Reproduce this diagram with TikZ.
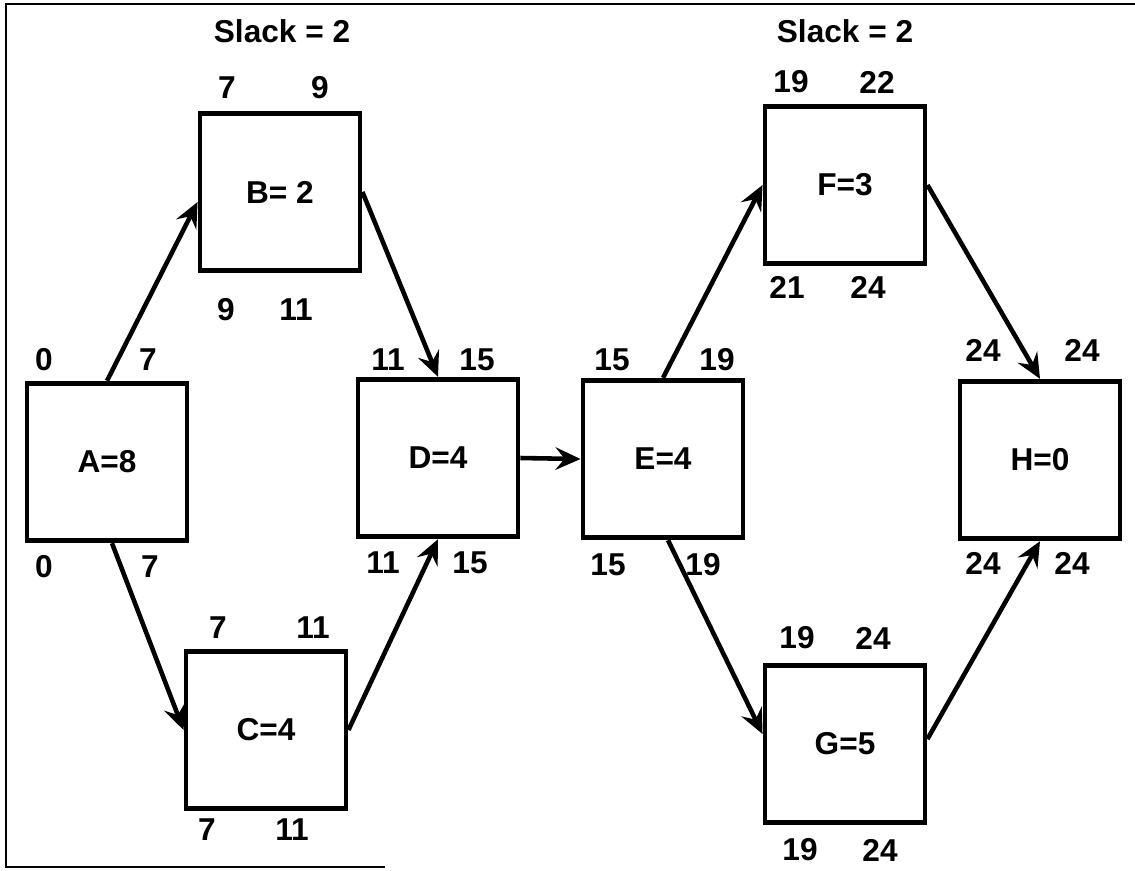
\documentclass[tikz,border=0pt]{standalone}
\usepackage{fontspec}
\setmainfont{Liberation Sans}
\usetikzlibrary{arrows.meta}

\begin{document}
\begin{tikzpicture}[x=0.02cm, y=-0.02cm,
    act/.style={draw, line width=2.8pt, minimum width=3.2cm, minimum height=3.15cm,
      font=\fontsize{18}{20}\selectfont\bfseries},
    num/.style={font=\fontsize{18}{20}\selectfont\bfseries},
    flow/.style={->, line width=2.6pt},
    >={Stealth[length=5mm, width=4.5mm, inset=1.8mm]}]
    \useasboundingbox (0,0) rectangle (1135,870);
    % frame
    \draw[line width=1.2pt] (385,867) -- (6,867) -- (6,4) -- (1135,4);

    % activities
    \node[act] (A) at (107,462) {A=8};
    \node[act] (B) at (280,192) {B= 2};
    \node[act] (C) at (266,730) {C=4};
    \node[act] (D) at (438,458) {D=4};
    \node[act] (E) at (663,459) {E=4};
    \node[act] (F) at (845,185) {F=3};
    \node[act] (G) at (845,744) {G=5};
    \node[act] (H) at (1040,460) {H=0};

    % early start / finish above, late start / finish below
    \node[num] (A-es) at (44,360) {0};
    \node[num] (A-ef) at (148,360) {7};
    \node[num] (A-ls) at (44,567) {0};
    \node[num] (A-lf) at (150,567) {7};
    \node[num] (B-es) at (227,88) {7};
    \node[num] (B-ef) at (320,88) {9};
    \node[num] (B-ls) at (226,310) {9};
    \node[num] (B-lf) at (296,310) {11};
    \node[num] (C-es) at (218,628) {7};
    \node[num] (C-ef) at (313,628) {11};
    \node[num] (C-ls) at (207,830) {7};
    \node[num] (C-lf) at (292,830) {11};
    \node[num] (D-es) at (388,360) {11};
    \node[num] (D-ef) at (477,360) {15};
    \node[num] (D-ls) at (383,563) {11};
    \node[num] (D-lf) at (470,563) {15};
    \node[num] (E-es) at (612,360) {15};
    \node[num] (E-ef) at (717,360) {19};
    \node[num] (E-ls) at (608,565) {15};
    \node[num] (E-lf) at (703,565) {19};
    \node[num] (F-es) at (791,82) {19};
    \node[num] (F-ef) at (877,82) {22};
    \node[num] (F-ls) at (787,287) {21};
    \node[num] (F-lf) at (868,287) {24};
    \node[num] (G-es) at (797,638) {19};
    \node[num] (G-ef) at (873,638) {24};
    \node[num] (G-ls) at (800,850) {19};
    \node[num] (G-lf) at (880,850) {24};
    \node[num] (H-es) at (983,350) {24};
    \node[num] (H-ef) at (1082,350) {24};
    \node[num] (H-ls) at (983,563) {24};
    \node[num] (H-lf) at (1072,563) {24};

    \node[num] (B-slack) at (282,31) {Slack = 2};
    \node[num] (F-slack) at (845,31) {Slack = 2};

    \draw[flow] (A.north) -- ([yshift=-2mm]B.west);
    \draw[flow] ([xshift=1mm]A.south) -- (C.west);
    \draw[flow] (B.east) -- (D.north);
    \draw[flow] (C.east) -- (D.south);
    \draw[flow] (D.east) -- (E.west);
    \draw[flow] (E.north) -- (F.west);
    \draw[flow] ([xshift=1mm]E.south) -- ([yshift=2mm]G.west);
    \draw[flow] (F.east) -- (H.north);
    \draw[flow] ([yshift=1mm]G.east) -- (H.south);
  \end{tikzpicture}
\end{document}
